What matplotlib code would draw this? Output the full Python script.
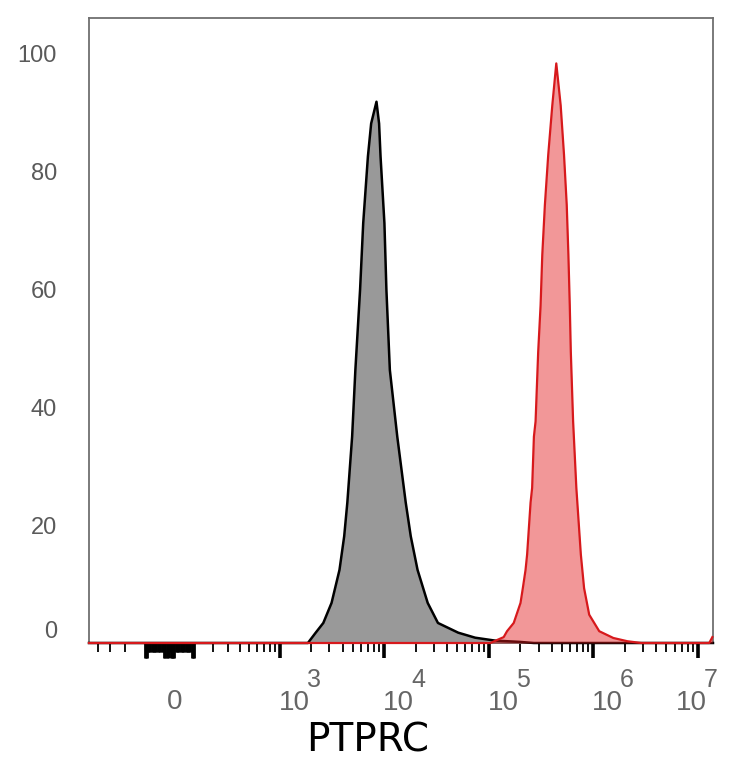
import numpy as np
import matplotlib
matplotlib.use("Agg")
import matplotlib.pyplot as plt

# histogram outlines: x as log10 of intensity, y as % of max
gray_log = [3.270, 3.345, 3.418, 3.497, 3.573, 3.618, 3.648, 3.694, 3.725, 3.770,
            3.800, 3.845, 3.876, 3.927, 3.952, 3.966, 4.003, 4.022, 4.055, 4.126,
            4.207, 4.255, 4.320, 4.417, 4.515, 4.709, 4.871, 5.064, 5.288, 5.433]
gray_pct = [0, 1.75, 3.4, 6.8, 12.4, 18.1, 23.8, 35.0, 46.3, 59.9,
            71.2, 82.5, 88.1, 91.8, 88.1, 82.5, 71.2, 59.9, 46.3, 35.0,
            23.8, 18.1, 12.4, 6.8, 3.4, 1.75, 0.9, 0.4, 0.2, 0]

red_log = [5.016, 5.144, 5.176, 5.240, 5.305, 5.327, 5.353, 5.368, 5.401, 5.416,
           5.433, 5.449, 5.474, 5.497, 5.513, 5.538, 5.570, 5.609, 5.647, 5.689,
           5.721, 5.747, 5.763, 5.776, 5.786, 5.808, 5.839, 5.882, 5.913, 5.962,
           6.058, 6.193, 6.327, 6.460, 7.110, 7.140]
red_pct = [0, 1.0, 2.0, 3.4, 6.8, 9.3, 12.4, 15.0, 23.8, 26.3,
           35.0, 37.6, 49.4, 57.3, 65.8, 74.3, 82.8, 91.2, 98.3, 91.2,
           82.8, 74.3, 65.8, 57.3, 49.4, 37.6, 26.3, 15.0, 9.3, 4.8,
           2.0, 0.85, 0.3, 0, 0, 1.0]

y_ticks = [0, 20, 40, 60, 80, 100]
decades = [3, 4, 5, 6, 7]
x_label = "PTPRC"

XMIN, XMAX = -500, 1.4e7
C = 88.0


# asinh display, close to the logicle axis of flow software
def fwd(x):
    return np.arcsinh(np.asarray(x, dtype=float) / (2 * C)) / np.log(10)


def inv(u):
    return 2 * C * np.sinh(np.asarray(u, dtype=float) * np.log(10))


fig = plt.figure(figsize=(7.34, 7.68), dpi=100)
ax = fig.add_axes([89 / 734, 1 - 643 / 768, 624 / 734, 625 / 768])
ax.set_xscale("function", functions=(fwd, inv))
ax.set_xlim(XMIN, XMAX)
ax.set_ylim(0, 106)

gx = np.concatenate([[XMIN], 10 ** np.array(gray_log), [XMAX]])
gy = np.concatenate([[0], gray_pct, [0]])
rx = np.concatenate([[XMIN], 10 ** np.array(red_log)])
ry = np.concatenate([[0], red_pct])

ax.fill_between(gx, gy, 0, color="#999999", lw=0, zorder=2)
ax.plot(gx, gy, color="black", lw=1.8, zorder=3, clip_on=False)
ax.fill_between(rx, ry, 0, color="#e31a1c", alpha=0.45, lw=0, zorder=4)
ax.plot(rx, ry, color="#d7191c", lw=1.6, zorder=5, clip_on=False)

for s in ax.spines.values():
    s.set_color("#707070")
    s.set_linewidth(1.3)

# x ticks
majors = [0] + [10 ** e for e in decades]
minors = [-400, -300, -200] + list(range(200, 1000, 100))
for e in range(3, 7):
    minors += [k * 10 ** e for k in range(2, 10)]
ax.set_xticks(majors)
ax.set_xticks(minors, minor=True)
ax.tick_params(axis="x", which="major", direction="out", length=10.5, width=2.6,
               color="black", labelbottom=False)
ax.tick_params(axis="x", which="minor", direction="out", length=6.5, width=1.3,
               color="black")

# dense linear ticks around zero
near_zero = np.arange(-100, 101, 5)
long_zero = [-100, -95, -90, -20, -15, -10, -5, 5, 10, 15, 20, 90, 95, 100]
for v in near_zero:
    ln = 11 if v in long_zero else 6.5
    ax.plot([v, v], [0, -ln * 100 / 72 / 625], color="black", lw=2.0,
            transform=ax.get_xaxis_transform(), clip_on=False, zorder=1,
            solid_capstyle="butt")

# y ticks
ax.set_yticks(y_ticks)
ax.set_yticklabels([str(v) for v in y_ticks])
ax.tick_params(axis="y", length=0, pad=23, labelsize=17, labelcolor="#5a5a5a")
for lab in ax.get_yticklabels():
    lab.set_family("Liberation Sans")
ax.get_yticklabels()[0].set_va("bottom")

lab_col = "#666666"
ax.annotate("0", xy=(0, 0), xycoords=("data", "axes fraction"),
            xytext=(5, -66), textcoords="offset pixels", ha="center",
            va="baseline", fontsize=20, color=lab_col, family="Liberation Sans")
for e in decades:
    dx = -22 if e == 7 else -1
    ax.annotate("10", xy=(10 ** e, 0), xycoords=("data", "axes fraction"),
                xytext=(dx, -67), textcoords="offset pixels", ha="left",
                va="baseline", fontsize=20, color=lab_col, family="Liberation Sans")
    ax.annotate(str(e), xy=(10 ** e, 0), xycoords=("data", "axes fraction"),
                xytext=(dx + 28, -44), textcoords="offset pixels", ha="left",
                va="baseline", fontsize=18, color=lab_col, family="Liberation Sans")

fig.text(367.5 / 734, 1 - 752 / 768, x_label, ha="center", va="baseline",
         fontsize=28, family="DejaVu Sans", color="black")

fig.savefig("out.png", dpi=100)
